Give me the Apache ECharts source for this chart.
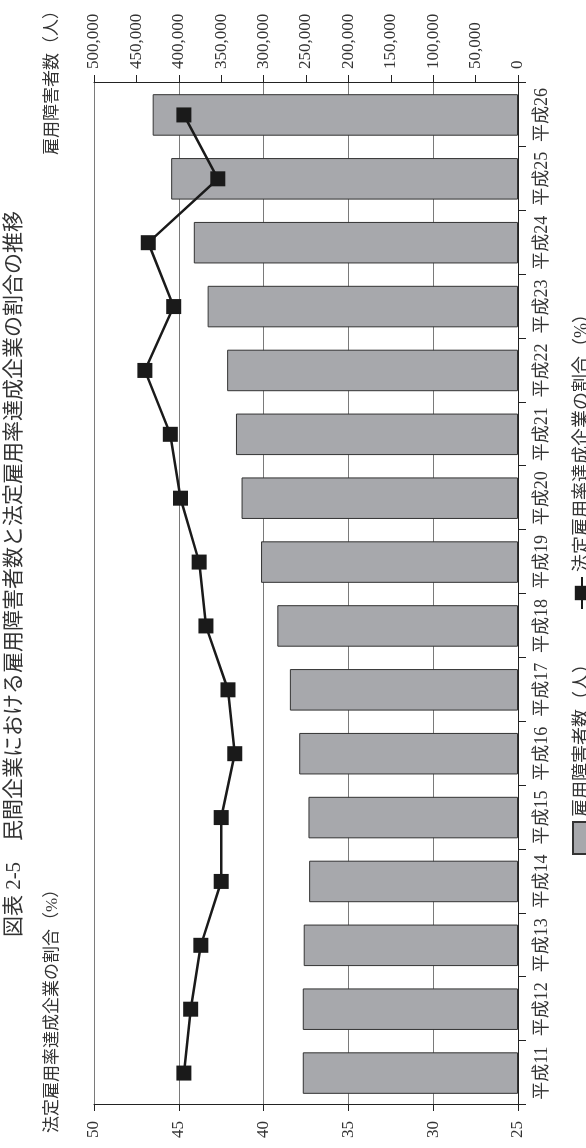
<!DOCTYPE html>
<html>
<head>
<meta charset="utf-8">
<script src="https://cdn.jsdelivr.net/npm/echarts@6/dist/echarts.min.js"></script>
<style>
  html, body { margin: 0; padding: 0; background: #fff; }
  #page { position: absolute; left: 0; top: 0; width: 586px; height: 1148px; overflow: hidden; }
  /* the chart is drawn landscape and turned a quarter turn to the left */
  #main { position: absolute; left: 0; top: 0; width: 1148px; height: 586px;
          transform-origin: 0 0; transform: translate(0, 1148px) rotate(-90deg); }
</style>
</head>
<body>
<div id="page"><div id="main"></div></div>
<script>
var categories = ['平成11', '平成12', '平成13', '平成14', '平成15', '平成16', '平成17', '平成18',
                  '平成19', '平成20', '平成21', '平成22', '平成23', '平成24', '平成25', '平成26'];
var employed = [253800, 253800, 252700, 246300, 247100, 258000, 269000, 283800,
                303000, 326000, 332600, 343000, 366000, 382300, 409000, 430800]; // 雇用障害者数（人）
var rate = [44.7, 44.3, 43.7, 42.5, 42.5, 41.7, 42.1, 43.4,
            43.8, 44.9, 45.5, 47.0, 45.3, 46.8, 42.7, 44.7]; // 法定雇用率達成企業の割合（%）

var barName = '雇用障害者数（人）';
var lineName = '法定雇用率達成企業の割合（%）';
var font = "'Liberation Serif', 'Noto Sans CJK JP', serif";
var textColor = '#333';

var myChart = echarts.init(document.getElementById('main'));
var option = {
    animation: false,
    backgroundColor: '#fff',
    textStyle: { fontFamily: font, color: textColor },
    title: [
        {
            text: '図表 2-5　民間企業における雇用障害者数と法定雇用率達成企業の割合の推移',
            left: 'center', top: 4, padding: 0,
            textStyle: { fontFamily: font, fontSize: 21, fontWeight: 'normal', color: textColor }
        },
        {
            text: lineName, left: 15, top: 44, padding: 0,
            textStyle: { fontFamily: font, fontSize: 17, fontWeight: 'normal', color: textColor }
        },
        {
            text: barName, right: 2, top: 44, padding: 0,
            textStyle: { fontFamily: font, fontSize: 17, fontWeight: 'normal', color: textColor }
        }
    ],
    legend: {
        left: 288, top: 567,
        itemWidth: 32, itemHeight: 18, itemGap: 45,
        textStyle: { fontFamily: font, fontSize: 18, color: textColor },
        data: [{ name: barName, icon: 'rect' }, { name: lineName }]
    },
    grid: { left: 43, right: 83, top: 94, bottom: 68 },
    xAxis: {
        type: 'category',
        data: categories,
        axisLine: { lineStyle: { color: '#222', width: 1 } },
        axisTick: { show: true, length: 8, lineStyle: { color: '#222' } },
        axisLabel: { interval: 0, fontFamily: font, fontSize: 18, color: textColor, margin: 15 }
    },
    yAxis: [
        {
            type: 'value', position: 'left',
            min: 25, max: 50, interval: 5,
            axisLine: { show: true, lineStyle: { color: '#222', width: 1 } },
            axisTick: { show: true, length: 6, lineStyle: { color: '#222' } },
            axisLabel: { fontFamily: font, fontSize: 17, color: textColor, margin: 16 },
            splitLine: { show: true, lineStyle: { color: '#7a7a7a', width: 1 } }
        },
        {
            type: 'value', position: 'right',
            min: 0, max: 500000, interval: 50000,
            axisLine: { show: true, lineStyle: { color: '#222', width: 1 } },
            axisTick: { show: true, length: 8, lineStyle: { color: '#222' } },
            axisLabel: {
                fontFamily: font, fontSize: 17, color: textColor, margin: 14,
                formatter: function (v) { return v.toLocaleString('en-US'); }
            },
            splitLine: { show: false }
        }
    ],
    series: [
        {
            name: barName,
            type: 'bar',
            yAxisIndex: 1,
            barCategoryGap: '35%',
            itemStyle: { color: '#a7a8ac', borderColor: '#333', borderWidth: 1 },
            data: employed
        },
        {
            name: lineName,
            type: 'line',
            yAxisIndex: 0,
            symbol: 'rect',
            symbolSize: 15,
            lineStyle: { color: '#1a1a1a', width: 2.5 },
            itemStyle: { color: '#1a1a1a' },
            data: rate
        }
    ]
};
myChart.setOption(option);
</script>
</body>
</html>
